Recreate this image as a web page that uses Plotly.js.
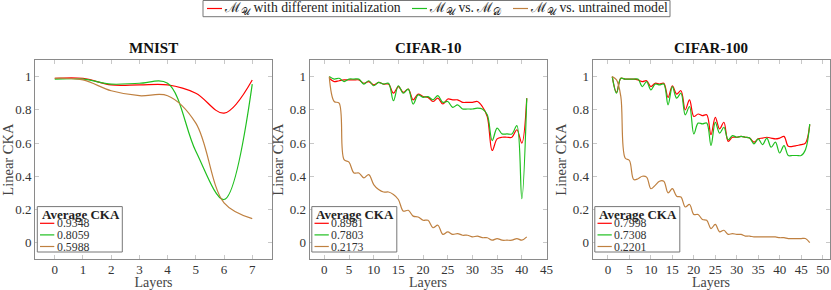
<!DOCTYPE html>
<html><head><meta charset="utf-8">
<script src="https://cdn.plot.ly/plotly-3.0.1.min.js"></script>
<style>html,body{margin:0;padding:0;background:#fff}#chart{width:831px;height:290px}</style>
</head><body><div id="chart"></div>
<script>
// ---------- data ----------
const seriesNames = ["ℳ<sub>𝒰</sub> with different initialization", "ℳ<sub>𝒰</sub> vs. ℳ<sub>𝒟</sub>", "ℳ<sub>𝒰</sub> vs. untrained model"];
const panelTitles = ["MNIST", "CIFAR-10", "CIFAR-100"];
const insetTitle = "Average CKA";

const mnistLayers = [0,1,2,3,4,5,6,7];
const mnistDiffInit  = [0.99,0.99,0.95,0.95,0.95,0.90,0.78,0.98];
const mnistVsD       = [0.985,0.985,0.955,0.96,0.96,0.55,0.26,0.955];
const mnistUntrained = [0.99,0.98,0.915,0.885,0.885,0.72,0.24,0.145];
const mnistAvg = ["0.9348","0.8059","0.5988"];

const c10Layers = [1,2,3,4,5,6,7,8,9,10,11,12,13,14,15,16,17,18,19,20,21,22,23,24,25,26,27,28,29,30,31,32,33,34,35,36,37,38,39,40,41];
const c10DiffInit = [0.99,0.97,0.975,0.98,0.98,0.98,0.98,0.96,0.97,0.95,0.965,0.955,0.955,0.90,0.94,0.905,0.925,0.86,0.895,0.88,0.875,0.85,0.87,0.835,0.865,0.86,0.86,0.845,0.845,0.845,0.85,0.82,0.76,0.555,0.625,0.635,0.635,0.635,0.68,0.60,0.87];
const c10VsD = [1.0,0.985,0.99,0.97,0.985,0.985,0.985,0.955,0.975,0.945,0.965,0.955,0.96,0.855,0.945,0.90,0.925,0.835,0.89,0.875,0.88,0.86,0.885,0.845,0.85,0.815,0.83,0.805,0.805,0.805,0.81,0.805,0.77,0.615,0.69,0.655,0.655,0.655,0.705,0.265,0.87];
const c10Untrained = [1.0,0.85,0.84,0.50,0.485,0.42,0.42,0.39,0.41,0.35,0.32,0.305,0.305,0.29,0.26,0.19,0.195,0.16,0.155,0.135,0.135,0.09,0.105,0.05,0.065,0.05,0.055,0.045,0.045,0.035,0.04,0.03,0.03,0.015,0.025,0.015,0.015,0.015,0.025,0.015,0.035];
const c10Avg = ["0.8981","0.7803","0.2173"];

const c100Layers = [1,2,3,4,5,6,7,8,9,10,11,12,13,14,15,16,17,18,19,20,21,22,23,24,25,26,27,28,29,30,31,32,33,34,35,36,37,38,39,40,41,42,43,44,45,46,47];
const c100DiffInit = [1.0,0.905,0.99,0.985,0.985,0.985,0.98,0.97,0.975,0.94,0.96,0.955,0.96,0.875,0.945,0.895,0.915,0.80,0.86,0.76,0.775,0.765,0.77,0.65,0.755,0.685,0.725,0.61,0.635,0.635,0.64,0.635,0.63,0.605,0.625,0.63,0.635,0.63,0.625,0.63,0.64,0.58,0.58,0.585,0.59,0.60,0.71];
const c100VsD = [1.0,0.90,0.99,0.985,0.985,0.985,0.985,0.94,0.97,0.92,0.955,0.95,0.955,0.83,0.94,0.87,0.90,0.77,0.82,0.655,0.72,0.715,0.72,0.585,0.725,0.66,0.695,0.62,0.645,0.635,0.64,0.635,0.63,0.595,0.625,0.59,0.63,0.575,0.605,0.54,0.585,0.525,0.525,0.525,0.525,0.56,0.715];
const c100Untrained = [1.0,0.98,0.88,0.51,0.495,0.38,0.385,0.40,0.395,0.325,0.345,0.37,0.37,0.30,0.325,0.28,0.275,0.215,0.23,0.17,0.17,0.14,0.135,0.085,0.11,0.065,0.075,0.05,0.055,0.05,0.05,0.04,0.04,0.035,0.035,0.035,0.035,0.035,0.035,0.03,0.03,0.025,0.025,0.025,0.025,0.025,0.0];
const c100Avg = ["0.7998","0.7308","0.2201"];

const xTickVals = [[0,1,2,3,4,5,6,7],[0,5,10,15,20,25,30,35,40,45],[0,5,10,15,20,25,30,35,40,45,50]];
const yTickVals = [0,0.2,0.4,0.6,0.8,1];

// ---------- style ----------
const colors = ["#ff0000", "#1fbf1f", "#bf8040"];
const W = 831, H = 290;
const FONT = "Liberation Serif";
const px = p => p / W;
const py = p => 1 - p / H;
const panelLeft = [35, 309.5, 592.5];
const panelWidth = 237;
const plotTop = 60, plotBottom = 259.3;
const xRanges = [[-0.7, 7.7], [-3, 45], [-3.6, 51.6]];

const panels = [
  {x: mnistLayers, ys: [mnistDiffInit, mnistVsD, mnistUntrained], avg: mnistAvg},
  {x: c10Layers, ys: [c10DiffInit, c10VsD, c10Untrained], avg: c10Avg},
  {x: c100Layers, ys: [c100DiffInit, c100VsD, c100Untrained], avg: c100Avg}
];

const traces = [];
const layout = {
  width: W, height: H,
  margin: {l: 0, r: 0, t: 0, b: 0},
  paper_bgcolor: "#fff", plot_bgcolor: "#fff",
  showlegend: false,
  font: {family: FONT, size: 13, color: "#333"},
  shapes: [], annotations: []
};

panels.forEach((p, i) => {
  const xa = i === 0 ? "x" : "x" + (i + 1);
  const ya = i === 0 ? "y" : "y" + (i + 1);
  p.ys.forEach((y, k) => {
    traces.push({
      type: "scatter", mode: "lines", x: p.x, y: y, xaxis: xa, yaxis: ya,
      name: seriesNames[k],
      line: {color: colors[k], width: 1.2, shape: "spline", smoothing: 1},
      hoverinfo: "skip"
    });
  });
  const axCommon = {
    showgrid: false, zeroline: false, showline: true, linecolor: "#8a8a8a", linewidth: 1,
    mirror: "allticks", ticks: "inside", ticklen: 4, tickcolor: "#c8c8c8", tickwidth: 1,
    tickfont: {family: FONT, size: 13, color: "#333"}, fixedrange: true
  };
  layout["xaxis" + (i === 0 ? "" : i + 1)] = Object.assign({}, axCommon, {
    domain: [px(panelLeft[i]), px(panelLeft[i] + panelWidth)],
    anchor: ya, range: xRanges[i], tickmode: "array", tickvals: xTickVals[i],
    ticklabelstandoff: -2,
    title: {text: "Layers", font: {family: FONT, size: 14, color: "#444"}, standoff: 0}
  });
  layout["yaxis" + (i === 0 ? "" : i + 1)] = Object.assign({}, axCommon, {
    domain: [py(plotBottom), py(plotTop)],
    anchor: xa, range: [-0.1, 1.1], tickmode: "array", tickvals: yTickVals,
    title: {text: "Linear CKA", font: {family: FONT, size: 14.5, color: "#444"}, standoff: 2}
  });
  // panel title
  layout.annotations.push({
    xref: "paper", yref: "paper", x: px(panelLeft[i] + panelWidth / 2), y: py(48),
    xanchor: "center", yanchor: "middle", showarrow: false,
    text: "<b>" + panelTitles[i] + "</b>", font: {family: FONT, size: 15, color: "#111"}
  });
  // inset legend
  const L = panelLeft[i];
  layout.shapes.push({type: "rect", xref: "paper", yref: "paper",
    x0: px(L + 2.3), x1: px(L + 87.3), y0: py(252), y1: py(206.6),
    line: {color: "#777", width: 1}, fillcolor: "#fff", layer: "above"});
  layout.annotations.push({
    xref: "paper", yref: "paper", x: px(L + 5.5), y: py(214.2), xanchor: "left", yanchor: "middle",
    showarrow: false, borderpad: 0, text: "<b>" + insetTitle + "</b>", font: {family: FONT, size: 13, color: "#222"}
  });
  p.avg.forEach((a, k) => {
    const yy = 223.3 + k * 11.6;
    layout.shapes.push({type: "line", xref: "paper", yref: "paper",
      x0: px(L + 5), x1: px(L + 19.3), y0: py(yy), y1: py(yy),
      line: {color: colors[k], width: 1.2}, layer: "above"});
    layout.annotations.push({
      xref: "paper", yref: "paper", x: px(L + 20.5), y: py(yy), xanchor: "left", yanchor: "middle",
      showarrow: false, borderpad: 0, text: a, font: {family: FONT, size: 11.8, color: "#333"}
    });
  });
});

// top legend
const topItems = [{s0: 207, t: 222.5}, {s0: 412, t: 428}, {s0: 513, t: 529}];
layout.shapes.push({type: "rect", xref: "paper", yref: "paper",
  x0: px(203), x1: px(670), y0: py(16.7), y1: py(0.5), line: {color: "#777", width: 1}, fillcolor: "rgba(0,0,0,0)"});
topItems.forEach((it, k) => {
  layout.shapes.push({type: "line", xref: "paper", yref: "paper",
    x0: px(it.s0), x1: px(it.s0 + 15), y0: py(8.5), y1: py(8.5), line: {color: colors[k], width: 1.2}});
  layout.annotations.push({
    xref: "paper", yref: "paper", x: px(it.t), y: py(8.5), xanchor: "left", yanchor: "middle",
    showarrow: false, borderpad: 0, text: seriesNames[k], font: {family: FONT, size: 13.7, color: "#222"}
  });
});

Plotly.newPlot("chart", traces, layout, {displayModeBar: false, staticPlot: true});
</script></body></html>
